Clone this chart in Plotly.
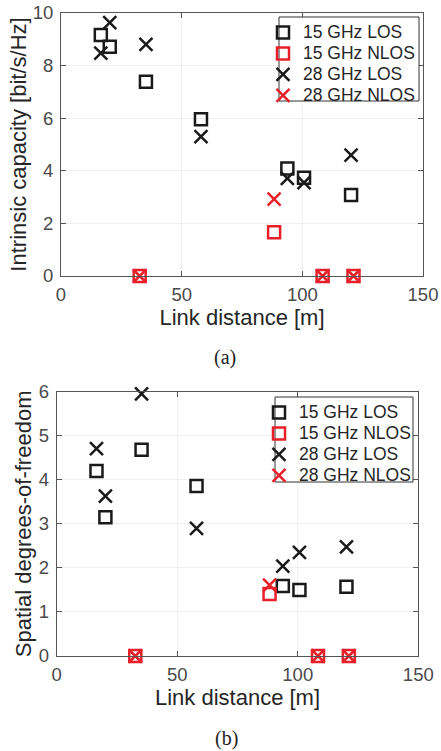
import plotly.graph_objects as go
from plotly.subplots import make_subplots

# ---- data ----
dist_los = [16.5, 20.2, 35.2, 58.0, 93.8, 100.7, 120.2]
dist_nlos = [32.6, 88.3, 108.4, 121.2]

cap_15_los = [9.16, 8.72, 7.39, 5.96, 4.09, 3.74, 3.08]
cap_15_nlos = [0.0, 1.66, 0.0, 0.0]
cap_28_los = [8.47, 9.63, 8.81, 5.30, 3.71, 3.55, 4.60]
cap_28_nlos = [0.0, 2.92, 0.0, 0.0]

dof_15_los = [4.20, 3.15, 4.68, 3.86, 1.59, 1.50, 1.57]
dof_15_nlos = [0.0, 1.41, 0.0, 0.0]
dof_28_los = [4.71, 3.63, 5.95, 2.90, 2.04, 2.35, 2.48]
dof_28_nlos = [0.0, 1.61, 0.0, 0.0]

series_names = ["15 GHz LOS", "15 GHz NLOS", "28 GHz LOS", "28 GHz NLOS"]
x_ticks = [0, 50, 100, 150]

FONT = "Liberation Sans, Arial, Helvetica, sans-serif"
SERIF = "Liberation Serif, Times New Roman, serif"
BLACK = "#1a1a1a"
RED = "#e8202a"
W, H = 441, 751
LEG_SIZE = 17.5

fig = make_subplots(rows=2, cols=1)

def add_panel(row, ys, legend):
    xs = [dist_los, dist_nlos, dist_los, dist_nlos]
    colors = [BLACK, RED, BLACK, RED]
    symbols = ["square-open", "square-open", "x-thin-open", "x-thin-open"]
    sizes = [12, 12, 13, 13]
    for name, x, y, c, s, sz in zip(series_names, xs, ys, colors, symbols, sizes):
        fig.add_trace(go.Scatter(
            x=x, y=y, mode="markers",
            name=f"<span style='font-size:{LEG_SIZE}px'>{name}</span>",
            legend=legend, cliponaxis=False, hoverinfo="skip",
            marker=dict(symbol=s, size=sz, color=c, line=dict(color=c, width=2.5)),
        ), row=row, col=1)

add_panel(1, [cap_15_los, cap_15_nlos, cap_28_los, cap_28_nlos], "legend")
add_panel(2, [dof_15_los, dof_15_nlos, dof_28_los, dof_28_nlos], "legend2")

axis_common = dict(
    showline=True, linecolor="#555555", linewidth=1, mirror="ticks",
    ticks="inside", ticklen=5, tickcolor="#555555",
    showgrid=True, gridcolor="#efefef", gridwidth=1, zeroline=False,
    automargin=False,
    tickfont=dict(family=FONT, size=18.5, color="#4a4a4a"),
)
fig.update_xaxes(axis_common, ticklabelstandoff=2)
fig.update_yaxes(axis_common, ticklabelstandoff=3)

title_font = dict(family=FONT, size=22, color="#262626")
fig.update_layout(
    template="none",
    xaxis=dict(domain=[61/W, 423/W], range=[0, 150], tickvals=x_ticks,
               title=dict(text="Link distance [m]", standoff=2, font=title_font)),
    yaxis=dict(domain=[1-276/H, 1-13/H], range=[0, 10], dtick=2,
               title=dict(text="Intrinsic capacity [bit/s/Hz]", standoff=0, font=title_font)),
    xaxis2=dict(domain=[56.7/W, 418.3/W], range=[0, 150], tickvals=x_ticks,
                title=dict(text="Link distance [m]", standoff=2, font=title_font)),
    yaxis2=dict(domain=[1-656/H, 1-391.7/H], range=[0, 6], dtick=1,
                title=dict(text="Spatial degrees-of-freedom", standoff=0, font=title_font)),
)

# legends; compact row height via small base font, visible text via span size
legend_common = dict(
    xanchor="left", yanchor="top",
    bgcolor="rgba(0,0,0,0)", borderwidth=0,
    font=dict(family=FONT, size=13.8, color="#262626"),
    tracegroupgap=0, itemwidth=30,
)
fig.update_layout(
    legend=dict(legend_common, x=263/W, y=1-17/H),
    legend2=dict(legend_common, x=259/W, y=1-397/H),
)
for (x0, y0, x1, y1) in [(279, 17, 419, 101), (275, 397, 413, 482)]:
    fig.add_shape(type="rect", xref="paper", yref="paper",
                  x0=x0/W, x1=x1/W, y0=1-y1/H, y1=1-y0/H,
                  fillcolor="white", line=dict(color="#333333", width=1), layer="above")

fig.add_annotation(text="(a)", x=225/W, y=1-358/H, xref="paper", yref="paper",
                   xanchor="center", yanchor="middle",
                   showarrow=False, font=dict(family=SERIF, size=20, color="#222"))
fig.add_annotation(text="(b)", x=226/W, y=1-738/H, xref="paper", yref="paper",
                   xanchor="center", yanchor="middle",
                   showarrow=False, font=dict(family=SERIF, size=20, color="#222"))

fig.update_layout(
    width=W, height=H,
    margin=dict(l=0, r=0, t=0, b=0),
    paper_bgcolor="white", plot_bgcolor="white",
    font=dict(family=FONT),
    hovermode=False,
)

fig.write_html(
    "out.html",
    config={"displayModeBar": False},
    post_script="document.body.style.margin='0';document.body.style.overflow='hidden';",
)
